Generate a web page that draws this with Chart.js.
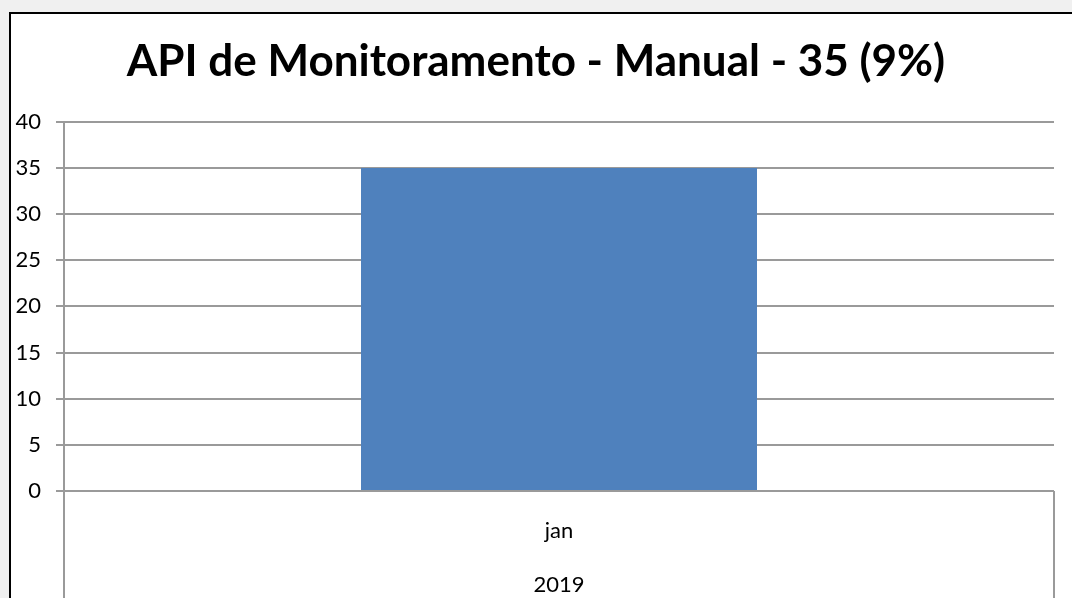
<!DOCTYPE html>
<html>
<head>
<meta charset="utf-8">
<script src="https://cdn.jsdelivr.net/npm/chart.js@4/dist/chart.umd.min.js"></script>
<style>
    html, body { margin: 0; padding: 0; background: #f0f0f0; overflow: hidden; }
    #frame {
        position: absolute; left: 9px; top: 12px; width: 1100px; height: 700px;
        border-left: 2px solid #000; border-top: 2px solid #000; background: #fff;
    }
    #wrap { position: absolute; left: 0; top: 0; width: 1072px; height: 598px; }
</style>
</head>
<body>
<div id="frame"></div>
<div id="wrap"><canvas id="chart" width="1072" height="598"></canvas></div>
<script>
// Chart data
const titleText = 'API de Monitoramento - Manual - 35 (9%)';
const categories = [['jan', '2019']];
const values = [35];
const yTicks = [0, 5, 10, 15, 20, 25, 30, 35, 40];

const gridColor = '#9a9a9a';

const ctx = document.getElementById('chart').getContext('2d');
const chart = new Chart(ctx, {
    type: 'bar',
    data: {
        labels: categories,
        datasets: [{
            data: values,
            backgroundColor: '#4F81BD',
            borderWidth: 0,
            barPercentage: 0.4,
            categoryPercentage: 1
        }]
    },
    options: {
        responsive: false,
        animation: false,
        layout: { padding: 0 },
        plugins: {
            legend: { display: false },
            tooltip: { enabled: false },
            title: {
                display: true,
                text: titleText,
                color: '#000',
                font: { family: 'Lato', size: 44, weight: 'bold', lineHeight: 1.2 },
                padding: { top: 35, bottom: 34 }
            }
        },
        scales: {
            x: {
                offset: true,
                grid: {
                    offset: true,
                    drawOnChartArea: false,
                    tickLength: 110,
                    color: gridColor,
                    lineWidth: 2
                },
                border: { display: false },
                ticks: {
                    color: '#000',
                    padding: -97,
                    font: { family: 'Lato', size: 22, lineHeight: '54px' }
                },
                afterFit(scale) { scale.height = 107; }
            },
            y: {
                min: 0,
                max: 40,
                afterBuildTicks(scale) { scale.ticks = yTicks.map(v => ({ value: v })); },
                grid: { color: gridColor, lineWidth: 2, tickLength: 8 },
                border: { color: gridColor, width: 2 },
                ticks: {
                    color: '#000',
                    padding: 15,
                    font: { family: 'Lato', size: 22 }
                },
                afterFit(scale) { scale.width = 64; }
            },
            // empty right-hand spacer so the title stays centred on the whole canvas
            spacer: {
                type: 'linear',
                position: 'right',
                display: true,
                grid: { display: false },
                border: { display: false },
                ticks: { display: false },
                afterFit(scale) { scale.width = 18; }
            }
        }
    }
});
</script>
</body>
</html>
